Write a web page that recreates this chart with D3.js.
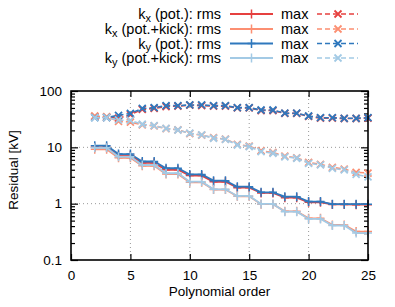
<!DOCTYPE html>
<html><head><meta charset="utf-8">
<script src="https://cdn.jsdelivr.net/npm/d3@7"></script>
<style>body{margin:0;background:#fff}svg{display:block}text{font-family:"Liberation Sans",Arial,sans-serif;fill:#000}</style>
</head><body>
<svg id="c" width="395" height="307"></svg>
<script>
const orders = d3.range(2, 26);
const kxPotRms  = [10.0,10.0,7.2,7.2,5.3,5.3,4.0,4.0,3.15,3.15,2.45,2.45,1.92,1.92,1.55,1.55,1.28,1.28,1.06,1.06,0.97,0.97,0.96,0.96];
const kxKickRms = [9.2,9.2,6.5,6.5,4.7,4.7,3.35,3.35,2.4,2.4,1.78,1.78,1.35,1.35,0.98,0.98,0.73,0.73,0.55,0.55,0.42,0.42,0.32,0.32];
const kyPotRms  = [10.7,10.7,7.6,7.6,5.6,5.6,4.25,4.25,3.3,3.3,2.56,2.56,2.0,2.0,1.59,1.59,1.33,1.33,1.09,1.09,0.98,0.98,0.98,0.98];
const kyKickRms = [9.8,9.8,6.8,6.8,4.86,4.86,3.47,3.47,2.46,2.46,1.8,1.8,1.37,1.37,0.99,0.99,0.72,0.72,0.535,0.535,0.41,0.41,0.30,0.30];
const kxPotMax  = [35,34,33,38,47,49,53,54,56,55,54,54,50,50,45,45,40,40,35.5,33,33,32.5,32.5,33];
const kxKickMax = [36,35,29,28,25,24,21.5,20.5,17.5,16.5,14.8,14,11.3,10.5,8.7,8.1,7.0,6.5,5.4,5.0,4.4,4.1,3.6,3.5];
const kyPotMax  = [33.6,33.6,37,40,49,50.6,55,55,56.5,56.5,55,55,50.6,50.6,46,46,40.3,40.3,36,33.6,33.6,32.8,32.8,33.6];
const kyKickMax = [33.6,33.6,30.6,30,25.7,24.3,21.8,20.3,17.8,16.6,14.5,13.9,11,10.3,8.4,7.85,6.8,6.4,5.2,4.86,4.25,3.97,3.3,3.0];
const seriesNames = [["x"," (pot.): rms"],["x"," (pot.+kick): rms"],["y"," (pot.): rms"],["y"," (pot.+kick): rms"]];
const colors = ["#e6403f","#fc8f72","#2f78bd","#a3cae5"];
const xTicks = [0,5,10,15,20,25];
const yTicks = [0.1,1,10,100];
const yTickLabels = ["0.1","1","10","100"];

const svg = d3.select("#c");
const m = {l:71, r:27, t:91, b:47};
const W = 395, H = 307;
const x = d3.scaleLinear().domain([0,25]).range([m.l, W-m.r]);
const y = d3.scaleLog().domain([0.1,100]).range([H-m.b, m.t]);
const FS = 13.5, LFS = 14.5;

// grid
const g = svg.append("g");
g.selectAll(".gx").data([5,10,15,20]).join("line")
  .attr("x1",d=>x(d)).attr("x2",d=>x(d)).attr("y1",y(0.1)).attr("y2",y(100))
  .attr("stroke","#999").attr("stroke-width",1).attr("stroke-dasharray","1,3");
g.selectAll(".gy").data([1,10]).join("line")
  .attr("y1",d=>y(d)).attr("y2",d=>y(d)).attr("x1",x(0)).attr("x2",x(25))
  .attr("stroke","#999").attr("stroke-width",1).attr("stroke-dasharray","1,3");

// axes with inward ticks
const minor = [];
[0.1,1,10].forEach(b=>{for(let k=2;k<=9;k++) minor.push(b*k);});
const axB = d3.axisBottom(x).tickValues(xTicks).tickSize(-6).tickPadding(10).tickFormat(d3.format("d"));
const axT = d3.axisTop(x).tickValues(xTicks).tickSize(-6).tickFormat("");
const axL = d3.axisLeft(y).tickValues(yTicks).tickSize(-7).tickPadding(9).tickFormat((d,i)=>yTickLabels[i]);
const axR = d3.axisRight(y).tickValues(yTicks).tickSize(-7).tickFormat("");
const axLm = d3.axisLeft(y).tickValues(minor).tickSize(-4).tickFormat("");
const axRm = d3.axisRight(y).tickValues(minor).tickSize(-4).tickFormat("");
function style(sel){sel.select(".domain").remove();sel.selectAll("line").attr("stroke","#000").attr("stroke-width",1.2);sel.selectAll("text").attr("font-size",FS).attr("font-family","Liberation Sans, Arial, sans-serif");}
svg.append("g").attr("transform",`translate(0,${y(0.1)})`).call(axB).call(style);
svg.append("g").attr("transform",`translate(0,${y(100)})`).call(axT).call(style);
svg.append("g").attr("transform",`translate(${x(0)},0)`).call(axL).call(style);
svg.append("g").attr("transform",`translate(${x(25)},0)`).call(axR).call(style);
svg.append("g").attr("transform",`translate(${x(0)},0)`).call(axLm).call(style);
svg.append("g").attr("transform",`translate(${x(25)},0)`).call(axRm).call(style);

// data series
const plus = "M-4,0H4M0,-4.5V4.5";
const cross = "M-3.5,-3.5L3.5,3.5M3.5,-3.5L-3.5,3.5";
const rms = [kxPotRms,kxKickRms,kyPotRms,kyKickRms];
const mx = [kxPotMax,kxKickMax,kyPotMax,kyKickMax];
const line = d3.line().x((d,i)=>x(orders[i])).y(d=>y(d));
const plot = svg.append("g");
for(let s=0;s<4;s++){
  const c = colors[s];
  plot.append("path").attr("d",line(rms[s])).attr("fill","none").attr("stroke",c).attr("stroke-width",1.8);
  plot.append("g").selectAll("path").data(rms[s]).join("path")
    .attr("transform",(d,i)=>`translate(${x(orders[i])},${y(d)})`).attr("d",plus)
    .attr("stroke",c).attr("stroke-width",1.5).attr("fill","none");
  plot.append("path").attr("d",line(mx[s])).attr("fill","none").attr("stroke",c).attr("stroke-width",1.6).attr("stroke-dasharray","5,3");
  plot.append("g").selectAll("path").data(mx[s]).join("path")
    .attr("transform",(d,i)=>`translate(${x(orders[i])},${y(d)})`).attr("d",cross)
    .attr("stroke",c).attr("stroke-width",1.8).attr("fill","none");
}

// frame
svg.append("rect").attr("x",x(0)).attr("y",y(100)).attr("width",x(25)-x(0)).attr("height",y(0.1)-y(100))
  .attr("fill","none").attr("stroke","#000").attr("stroke-width",1.6);

// axis titles
svg.append("text").attr("x",x(12.5)).attr("y",296).attr("text-anchor","middle").attr("font-size",FS).text("Polynomial order");
svg.append("text").attr("transform",`translate(18,170) rotate(-90)`).attr("text-anchor","middle").attr("font-size",FS).text("Residual [kV]");

// legend
const rowsY = [14,29,43.5,58];
for(let s=0;s<4;s++){
  const ly = rowsY[s], c = colors[s];
  const t = svg.append("text").attr("x",221).attr("y",ly+5).attr("text-anchor","end").attr("font-size",LFS);
  t.append("tspan").text("k");
  t.append("tspan").attr("font-size",11).attr("dy",2.5).text(seriesNames[s][0]);
  t.append("tspan").attr("dy",-2.5).text(seriesNames[s][1]);
  svg.append("line").attr("x1",230).attr("x2",273).attr("y1",ly).attr("y2",ly).attr("stroke",c).attr("stroke-width",1.8);
  svg.append("path").attr("transform",`translate(251.5,${ly})`).attr("d",plus).attr("stroke",c).attr("stroke-width",1.5);
  svg.append("text").attr("x",281).attr("y",ly+5).attr("font-size",LFS).text("max");
  svg.append("line").attr("x1",317).attr("x2",358).attr("y1",ly).attr("y2",ly).attr("stroke",c).attr("stroke-width",1.6).attr("stroke-dasharray","5,3");
  svg.append("path").attr("transform",`translate(338,${ly})`).attr("d",cross).attr("stroke",c).attr("stroke-width",1.8);
}
</script>
</body></html>
